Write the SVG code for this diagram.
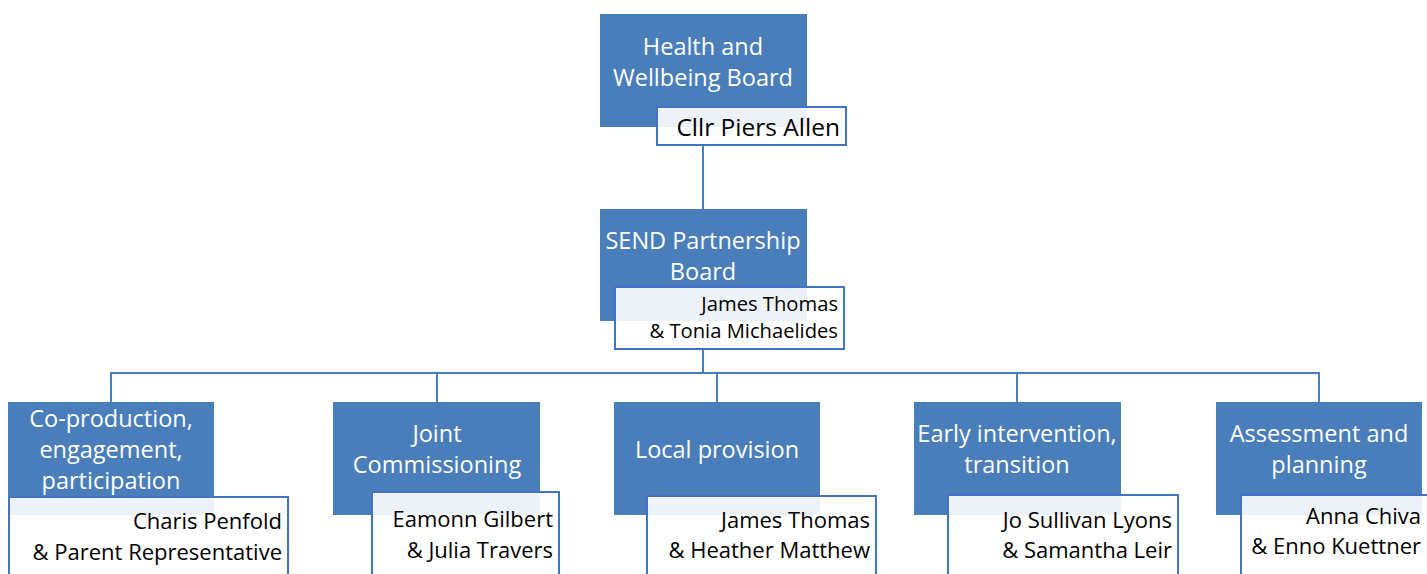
<svg xmlns="http://www.w3.org/2000/svg" width="1427" height="574" viewBox="0 0 1427 574">
<style>
.blue{fill:#4a7ebb;}
.name{fill:#ffffff;fill-opacity:0.9;stroke:#4472c4;stroke-width:2;}
.t{font-family:"Open Sans","Liberation Sans",sans-serif;font-size:23.5px;fill:#ffffff;text-anchor:middle;}
.n{font-family:"Open Sans","Liberation Sans",sans-serif;font-size:22px;fill:#000000;text-anchor:end;}
.n2{font-family:"Open Sans","Liberation Sans",sans-serif;font-size:20.2px;fill:#000000;text-anchor:end;}
.n1{font-family:"Open Sans","Liberation Sans",sans-serif;font-size:24.5px;fill:#000000;text-anchor:end;}
.c{stroke:#4a7ebb;stroke-width:2;fill:none;}
</style>
<g id="connectors">
<path class="c" d="M703 145V209"/>
<path class="c" d="M703 349V373"/>
<path class="c" d="M111 402V373H1319V402"/>
<path class="c" d="M437 373V402M717 373V402M1017 373V402"/>
</g>
<g id="hwb">
<rect class="blue" x="600" y="14" width="207" height="113"/>
<text class="t" x="703" y="55">Health and</text>
<text class="t" x="703" y="86">Wellbeing Board</text>
<rect class="name" x="657" y="107" width="189" height="38"/>
<text class="n1" x="840" y="136">Cllr Piers Allen</text>
</g>
<g id="send">
<rect class="blue" x="600" y="209" width="207" height="112"/>
<text class="t" x="703" y="249">SEND Partnership</text>
<text class="t" x="703" y="280">Board</text>
<rect class="name" x="615" y="287" width="229" height="62"/>
<text class="n2" x="838" y="311">James Thomas</text>
<text class="n2" x="838" y="338">&amp; Tonia Michaelides</text>
</g>
<g id="coproduction">
<rect class="blue" x="8" y="402" width="206" height="113"/>
<text class="t" x="111" y="427">Co-production,</text>
<text class="t" x="111" y="458">engagement,</text>
<text class="t" x="111" y="489">participation</text>
<rect class="name" x="9" y="497" width="279" height="90"/>
<text class="n" x="282" y="529">Charis Penfold</text>
<text class="n" x="282" y="560">&amp; Parent Representative</text>
</g>
<g id="commissioning">
<rect class="blue" x="333" y="402" width="207" height="113"/>
<text class="t" x="437" y="442">Joint</text>
<text class="t" x="437" y="473">Commissioning</text>
<rect class="name" x="372" y="492" width="187" height="95"/>
<text class="n" x="553" y="527">Eamonn Gilbert</text>
<text class="n" x="553" y="558">&amp; Julia Travers</text>
</g>
<g id="provision">
<rect class="blue" x="614" y="402" width="206" height="113"/>
<text class="t" x="717" y="458">Local provision</text>
<rect class="name" x="647" y="496" width="229" height="91"/>
<text class="n" x="870" y="528">James Thomas</text>
<text class="n" x="870" y="558">&amp; Heather Matthew</text>
</g>
<g id="early">
<rect class="blue" x="914" y="402" width="207" height="113"/>
<text class="t" x="1017" y="442">Early intervention,</text>
<text class="t" x="1017" y="473">transition</text>
<rect class="name" x="948" y="495" width="230" height="92"/>
<text class="n" x="1172" y="528">Jo Sullivan Lyons</text>
<text class="n" x="1172" y="558">&amp; Samantha Leir</text>
</g>
<g id="assessment">
<rect class="blue" x="1216" y="402" width="206" height="113"/>
<text class="t" x="1319" y="442">Assessment and</text>
<text class="t" x="1319" y="473">planning</text>
<rect class="name" x="1241" y="495" width="200" height="92"/>
<text class="n" x="1421" y="524">Anna Chiva</text>
<text class="n" x="1421" y="554">&amp; Enno Kuettner</text>
</g>
</svg>
